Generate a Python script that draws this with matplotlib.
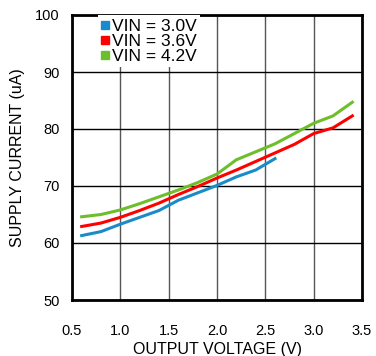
import matplotlib
matplotlib.use("Agg")
import matplotlib.pyplot as plt

plt.rcParams['font.family'] = ['Liberation Sans', 'DejaVu Sans']

x_30 = [0.6, 0.8, 1.0, 1.2, 1.4, 1.6, 1.8, 2.0, 2.2, 2.4, 2.6]
y_30 = [61.3, 62.0, 63.3, 64.5, 65.7, 67.5, 68.8, 70.1, 71.6, 72.8, 74.8]

x_36 = [0.6, 0.8, 1.0, 1.2, 1.4, 1.6, 1.8, 2.0, 2.2, 2.4, 2.6, 2.8, 3.0, 3.2, 3.4]
y_36 = [62.9, 63.5, 64.5, 65.7, 67.0, 68.5, 69.9, 71.4, 72.8, 74.3, 75.8, 77.3, 79.2, 80.2, 82.3]

x_42 = [0.6, 0.8, 1.0, 1.2, 1.4, 1.6, 1.8, 2.0, 2.2, 2.4, 2.6, 2.8, 3.0, 3.2, 3.4]
y_42 = [64.6, 65.0, 65.8, 66.9, 68.1, 69.3, 70.6, 72.1, 74.6, 76.0, 77.4, 79.2, 81.0, 82.3, 84.7]

labels = ['VIN = 3.0V', 'VIN = 3.6V', 'VIN = 4.2V']
colors = ['#1a8ac8', '#ff0000', '#6cbf2a']

fig = plt.figure(figsize=(3.76, 3.56), dpi=100)
ax = fig.add_axes([72/376, 1-300/356, 290/376, 285/356])

for xs, ys, lab, c in zip([x_30, x_36, x_42], [y_30, y_36, y_42], labels, colors):
    ax.plot(xs, ys, color=c, lw=2.2, label=lab)

ax.set_xlim(0.5, 3.5)
ax.set_ylim(50, 100)
ax.set_xticks([0.5, 1.0, 1.5, 2.0, 2.5, 3.0, 3.5])
ax.set_yticks([50, 60, 70, 80, 90, 100])
ax.xaxis.grid(True, color='#555555', lw=1)
ax.yaxis.grid(True, color='black', lw=1)
ax.set_axisbelow(True)
ax.tick_params(length=0, labelsize=10.5)
ax.tick_params(axis='x', pad=17)
ax.tick_params(axis='y', pad=9)
for s in ax.spines.values():
    s.set_linewidth(2)
ax.set_xlabel('OUTPUT VOLTAGE (V)', fontsize=11.5, labelpad=3)
ax.set_ylabel('SUPPLY CURRENT (uA)', fontsize=11.5, labelpad=7)

handles = [plt.Line2D([], [], marker='s', ls='none', color=c, markersize=5.5) for c in colors]
leg = ax.legend(handles, labels, loc='upper left', bbox_to_anchor=(0.09, 1.0),
                frameon=True, fancybox=False, framealpha=1, edgecolor='none',
                fontsize=12.5, handlelength=0.45, handletextpad=0.15,
                labelspacing=0.0, borderpad=0.2, borderaxespad=0)

fig.savefig('out.png', dpi=100)
